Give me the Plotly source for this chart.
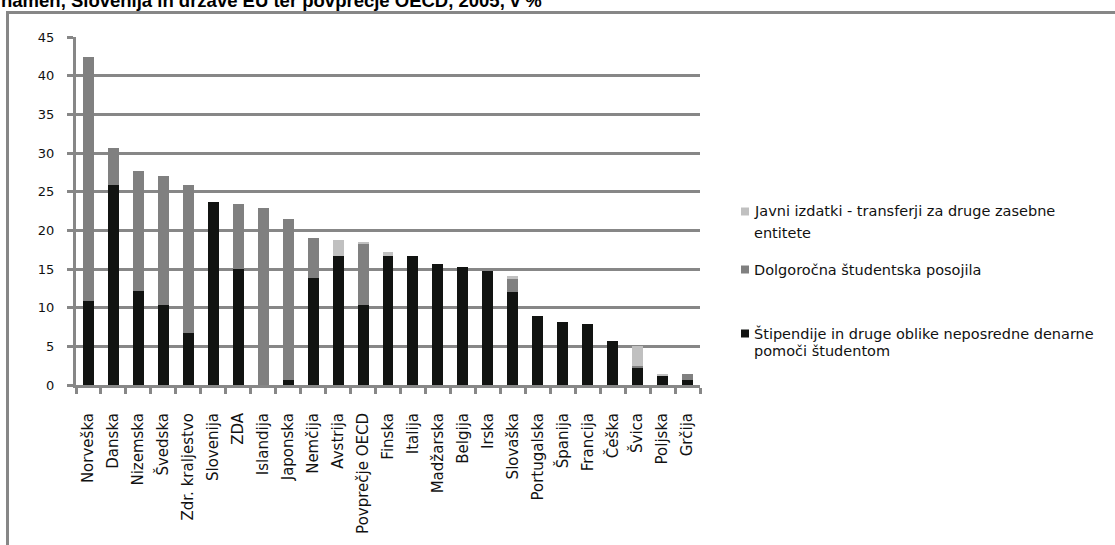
import plotly.graph_objects as go

# Countries (x categories) and the three stacked components, in % of public spending
countries = [
    "Norveška", "Danska", "Nizemska", "Švedska", "Zdr. kraljestvo", "Slovenija",
    "ZDA", "Islandija", "Japonska", "Nemčija", "Avstrija", "Povprečje OECD",
    "Finska", "Italija", "Madžarska", "Belgija", "Irska", "Slovaška",
    "Portugalska", "Španija", "Francija", "Češka", "Švica", "Poljska", "Grčija",
]
stipendije = [10.8, 25.8, 12.2, 10.3, 6.7, 23.6, 15.0, 0.0, 0.7, 13.9, 16.7, 10.3,
              16.7, 16.7, 15.7, 15.2, 14.7, 12.0, 8.9, 8.2, 7.9, 5.7, 2.2, 1.2, 0.7]
posojila = [31.6, 4.8, 15.5, 16.7, 19.1, 0.0, 8.4, 22.9, 20.8, 5.1, 0.0, 7.9,
            0.0, 0.0, 0.0, 0.0, 0.0, 1.7, 0.0, 0.0, 0.0, 0.0, 0.2, 0.0, 0.7]
transferji = [0.0, 0.0, 0.0, 0.0, 0.0, 0.0, 0.0, 0.0, 0.0, 0.0, 2.1, 0.3,
              0.5, 0.0, 0.0, 0.0, 0.0, 0.4, 0.0, 0.0, 0.0, 0.0, 2.6, 0.15, 0.0]

series_names = [
    "Štipendije in druge oblike neposredne denarne pomoči študentom",
    "Dolgoročna študentska posojila",
    "Javni izdatki - transferji za druge zasebne entitete",
]
y_ticks = [0, 5, 10, 15, 20, 25, 30, 35, 40, 45]
title_text = "namen, Slovenija in države EU ter povprečje OECD, 2005, v %"

BLACK = "#111311"
DARK = "#808080"
LIGHT = "#c0c0c0"
GRID = "#878787"
FONT = "DejaVu Sans"

W, H = 1115, 545
L, R, T, B = 76, 415, 37, 160
PW = W - L - R
PH = H - T - B


def px(x):
    return (x - L) / PW


def py(y):
    return (H - B - y) / PH


fig = go.Figure()
for vals, name, col in zip([stipendije, posojila, transferji], series_names, [BLACK, DARK, LIGHT]):
    fig.add_bar(x=countries, y=vals, name=name, marker=dict(color=col, line=dict(width=0)))

fig.update_layout(
    barmode="stack",
    bargap=0.56,
    showlegend=False,
    width=W,
    height=H,
    margin=dict(l=L, r=R, t=T, b=B, pad=0, autoexpand=False),
    plot_bgcolor="white",
    paper_bgcolor="white",
    font=dict(family=FONT, size=13, color="#111111"),
)

fig.update_yaxes(
    range=[0, 45], tickvals=y_ticks, showgrid=True, gridcolor=GRID, gridwidth=3,
    showline=True, linecolor=GRID, linewidth=3, zeroline=False, automargin=False,
    ticks="outside", ticklen=6, tickwidth=3, tickcolor=GRID,
    ticklabelstandoff=10, tickfont=dict(size=13),
)
fig.update_xaxes(
    showline=True, linecolor=GRID, linewidth=3, showgrid=False, automargin=False,
    ticks="outside", tickson="boundaries", ticklen=6, tickwidth=2.5, tickcolor=GRID,
    tickangle=-90, ticklabelstandoff=19, tickfont=dict(size=15),
)

# Legend drawn as swatches + text lines on the right side
legend_items = [
    (LIGHT, 211.5, ["Javni izdatki - transferji za druge zasebne", "entitete"], 21),
    (DARK, 269.5, ["Dolgoročna študentska posojila"], 0),
    (BLACK, 333.5, ["Štipendije in druge oblike neposredne denarne", "pomoči študentom"], 17),
]
for col, yc, lines, step in legend_items:
    fig.add_shape(type="rect", xref="paper", yref="paper",
                  x0=px(741), x1=px(749), y0=py(yc - 4), y1=py(yc + 4),
                  fillcolor=col, line=dict(width=0))
    for i, line in enumerate(lines):
        fig.add_annotation(xref="paper", yref="paper", x=px(752), y=py(yc + i * step),
                           xanchor="left", yanchor="middle", showarrow=False,
                           text=line, font=dict(family=FONT, size=14.5, color="#111111"))

# Outer chart frame
fig.add_shape(type="path", xref="paper", yref="paper",
              path=f"M {px(7.5)},{py(600)} L {px(7.5)},{py(12.5)} L {px(1200)},{py(12.5)}",
              line=dict(color=GRID, width=3))

# Title (upper part runs off the top edge)
fig.add_annotation(xref="paper", yref="paper", x=px(-1), y=py(13),
                   xanchor="left", yanchor="bottom", showarrow=False,
                   text=f"<b>{title_text}</b>",
                   font=dict(family="Liberation Sans", size=18.5, color="#000000"))

fig.write_html("out.html")
